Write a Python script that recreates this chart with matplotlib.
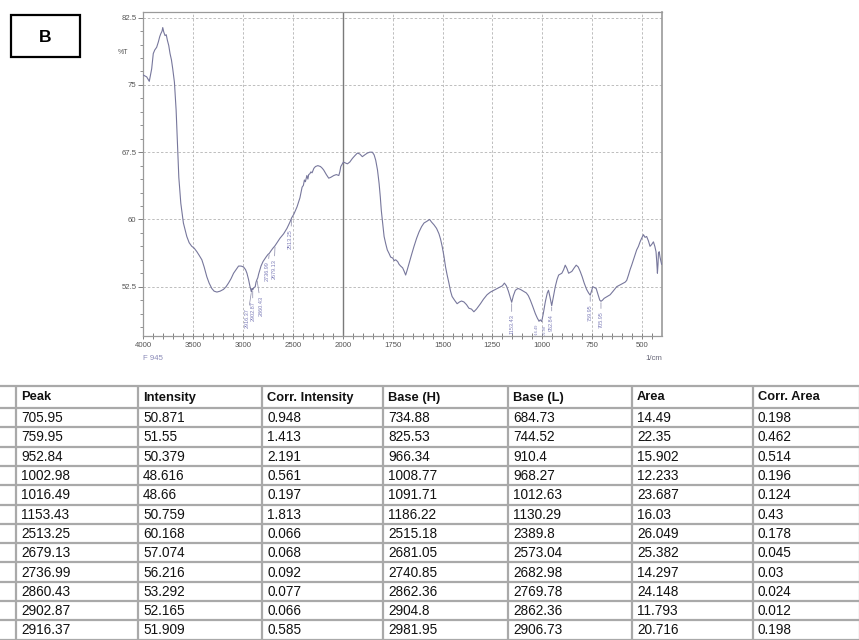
import numpy as np
import matplotlib
matplotlib.use("Agg")
import matplotlib.pyplot as plt
from matplotlib.ticker import FixedLocator, MultipleLocator, NullFormatter

plt.rcParams['font.family'] = ['Liberation Sans', 'DejaVu Sans']

# ---------------- data ----------------
wavenumber = [4000, 3966, 3940, 3916, 3900, 3885, 3866, 3849, 3835, 3825, 3812, 3805, 3795, 3782,
              3770, 3759, 3745, 3732, 3718, 3705, 3688, 3671, 3658, 3644, 3624, 3598, 3564, 3540,
              3514, 3490, 3463, 3440, 3413, 3390, 3363, 3340, 3313, 3290, 3262, 3230, 3196, 3170,
              3146, 3120, 3095, 3070, 3045, 3020, 2995, 2975, 2961, 2945, 2930, 2916.37, 2910,
              2902.87, 2890, 2878, 2870, 2860.43, 2852, 2844, 2820, 2800, 2770, 2750, 2736.99, 2720,
              2700, 2679.13, 2660, 2630, 2593, 2560, 2530, 2513.25, 2490, 2459, 2430, 2408, 2395,
              2385, 2375, 2360, 2350, 2342, 2330, 2320, 2308, 2290, 2274, 2250, 2224, 2205, 2191,
              2165, 2141, 2120, 2090, 2065, 2040, 2030, 2020, 1997, 1977, 1965, 1952, 1940, 1927,
              1915, 1902, 1890, 1877, 1865, 1852, 1843, 1835, 1826, 1818, 1812, 1807, 1800, 1793,
              1785, 1777, 1768, 1760, 1750, 1742, 1735, 1725, 1718, 1710, 1700, 1692, 1685, 1678,
              1668, 1655, 1643, 1630, 1618, 1605, 1593, 1578, 1565, 1555, 1543, 1530, 1518, 1510,
              1502, 1493, 1485, 1477, 1468, 1460, 1452, 1440, 1427, 1415, 1405, 1393, 1380, 1368,
              1355, 1343, 1330, 1320, 1310, 1295, 1277, 1260, 1243, 1225, 1210, 1200, 1190, 1180,
              1170, 1153.43, 1145, 1135, 1122, 1110, 1095, 1080, 1070, 1060, 1048, 1035, 1025,
              1016.49, 1010, 1002.98, 995, 985, 975, 969, 962, 952.84, 945, 935, 926, 918, 910, 902,
              893, 885, 876, 868, 860, 852, 840, 830, 820, 810, 800, 790, 778, 768, 759.95, 752, 747,
              738, 730, 720, 712, 705.95, 698, 690, 675, 660, 645, 627, 610, 593, 585, 577, 568, 560,
              552, 543, 535, 527, 518, 510, 502, 493, 485, 477, 468, 460, 452, 443, 436, 430, 426,
              423, 420, 418, 414, 410, 402]
transmittance = [76.1, 75.9, 75.4, 76.8, 78.5, 78.9, 79.2, 79.8, 80.4, 80.7, 81.0, 81.4, 80.9, 80.5,
                 80.6, 80.0, 79.4, 78.5, 77.8, 76.8, 75.3, 72.2, 68.5, 64.7, 61.8, 59.6, 58.1, 57.4,
                 57.0, 56.8, 56.4, 56.0, 55.5, 54.7, 53.6, 52.9, 52.3, 52.0, 51.9, 52.0, 52.2, 52.5,
                 52.9, 53.4, 54.0, 54.4, 54.8, 54.8, 54.7, 54.4, 54.0, 53.3, 52.5, 51.909, 52.3,
                 52.165, 52.4, 52.5, 53.0, 53.292, 53.5, 53.9, 54.8, 55.3, 55.8, 56.1, 56.216, 56.5,
                 56.8, 57.074, 57.4, 57.9, 58.4, 59.0, 59.7, 60.168, 60.6, 61.4, 62.4, 63.6, 63.8,
                 64.4, 64.2, 64.9, 64.5, 65.0, 65.1, 65.3, 65.2, 65.7, 65.9, 66.0, 65.9, 65.7, 65.5,
                 65.0, 64.6, 64.7, 64.9, 65.0, 64.9, 65.3, 65.9, 66.4, 66.2, 66.4, 66.8, 67.1, 67.4,
                 67.3, 67.0, 67.2, 67.4, 67.5, 67.5, 67.2, 66.6, 65.5, 64.0, 62.5, 61.0, 59.5, 58.1,
                 57.3, 56.6, 56.2, 55.8, 55.7, 55.4, 55.5, 55.3, 55.0, 54.8, 54.6, 54.2, 53.8, 54.3,
                 55.1, 56.1, 57.0, 57.9, 58.6, 59.2, 59.6, 59.8, 60.0, 59.7, 59.4, 59.0, 58.4, 57.8,
                 57.0, 55.9, 54.7, 53.8, 52.9, 52.0, 51.4, 51.0, 50.6, 50.8, 50.9, 50.8, 50.5, 50.1,
                 50.0, 49.7, 50.0, 50.3, 50.6, 51.1, 51.6, 51.9, 52.1, 52.3, 52.5, 52.6, 52.9, 52.6,
                 52.0, 50.759, 51.5, 52.1, 52.3, 52.2, 52.0, 51.8, 51.5, 51.0, 50.3, 49.5, 49.0,
                 48.66, 48.8, 48.616, 49.5, 50.8, 51.8, 52.1, 51.4, 50.379, 51.3, 52.5, 53.3, 53.8,
                 53.9, 54.0, 54.4, 54.9, 54.5, 54.0, 54.1, 54.2, 54.6, 54.9, 54.7, 54.2, 53.6, 52.9,
                 52.2, 51.8, 51.55, 52.1, 52.5, 52.4, 52.3, 51.6, 51.0, 50.871, 51.0, 51.2, 51.4,
                 51.6, 52.0, 52.5, 52.7, 52.9, 53.0, 53.2, 53.8, 54.4, 54.9, 55.5, 56.0, 56.6, 57.0,
                 57.5, 57.9, 58.3, 58.0, 58.1, 57.6, 57.0, 57.2, 57.5, 57.0, 56.4, 55.2, 54.0, 55.0,
                 56.2, 56.4, 55.8, 55.0]

peak = [705.95, 759.95, 952.84, 1002.98, 1016.49, 1153.43, 2513.25, 2679.13, 2736.99, 2860.43,
        2902.87, 2916.37]
intensity = [50.871, 51.55, 50.379, 48.616, 48.66, 50.759, 60.168, 57.074, 56.216, 53.292, 52.165,
             51.909]
corr_intensity = [0.948, 1.413, 2.191, 0.561, 0.197, 1.813, 0.066, 0.068, 0.092, 0.077, 0.066, 0.585]
base_h = [734.88, 825.53, 966.34, 1008.77, 1091.71, 1186.22, 2515.18, 2681.05, 2740.85, 2862.36,
          2904.8, 2981.95]
base_l = [684.73, 744.52, 910.4, 968.27, 1012.63, 1130.29, 2389.8, 2573.04, 2682.98, 2769.78,
          2862.36, 2906.73]
area = [14.49, 22.35, 15.902, 12.233, 23.687, 16.03, 26.049, 25.382, 14.297, 24.148, 11.793, 20.716]
corr_area = [0.198, 0.462, 0.514, 0.196, 0.124, 0.43, 0.178, 0.045, 0.03, 0.024, 0.012, 0.198]

# text strings as printed in the table
peak_txt = ["705.95", "759.95", "952.84", "1002.98", "1016.49", "1153.43", "2513.25", "2679.13",
            "2736.99", "2860.43", "2902.87", "2916.37"]
int_txt = ["50.871", "51.55", "50.379", "48.616", "48.66", "50.759", "60.168", "57.074", "56.216",
           "53.292", "52.165", "51.909"]
ci_txt = ["0.948", "1.413", "2.191", "0.561", "0.197", "1.813", "0.066", "0.068", "0.092", "0.077",
          "0.066", "0.585"]
bh_txt = ["734.88", "825.53", "966.34", "1008.77", "1091.71", "1186.22", "2515.18", "2681.05",
          "2740.85", "2862.36", "2904.8", "2981.95"]
bl_txt = ["684.73", "744.52", "910.4", "968.27", "1012.63", "1130.29", "2389.8", "2573.04",
          "2682.98", "2769.78", "2862.36", "2906.73"]
ar_txt = ["14.49", "22.35", "15.902", "12.233", "23.687", "16.03", "26.049", "25.382", "14.297",
          "24.148", "11.793", "20.716"]
ca_txt = ["0.198", "0.462", "0.514", "0.196", "0.124", "0.43", "0.178", "0.045", "0.03", "0.024",
          "0.012", "0.198"]
headers = ["Peak", "Intensity", "Corr. Intensity", "Base (H)", "Base (L)", "Area", "Corr. Area"]

x_major = [4000, 3500, 3000, 2500, 2000, 1750, 1500, 1250, 1000, 750, 500]
y_major = [52.5, 60, 67.5, 75, 82.5]

# ---------------- figure ----------------
W, H = 859, 640
fig = plt.figure(figsize=(W / 100, H / 100), dpi=100)

# overlay for table + box (pixel coordinates)
ov = fig.add_axes([0, 0, 1, 1])
ov.set_xlim(0, W)
ov.set_ylim(H, 0)
ov.axis('off')
ov.patch.set_visible(False)

# "B" box
ov.add_patch(plt.Rectangle((11, 15), 69, 42, fill=False, ec='black', lw=1.6))
ov.text(45.5, 37, "B", ha='center', va='center', fontsize=12.5, fontweight='bold', color='black')

# table
col_x = [16, 138, 262, 383, 508, 632, 753, 860]
top, head_bot, row_h = 386, 408, 19.3
grid_c = '#a9a9a9'
n_rows = len(peak_txt)
row_lines = [top, head_bot] + [head_bot + row_h * (i + 1) for i in range(n_rows)]
for yy in row_lines:
    ov.plot([0, W], [yy, yy], color=grid_c, lw=1.6, solid_capstyle='butt')
for xx in col_x:
    ov.plot([xx, xx], [top, H], color=grid_c, lw=1.6, solid_capstyle='butt')
for j, h in enumerate(headers):
    ov.text(col_x[j] + 5, (top + head_bot) / 2 + 0.5, h, ha='left', va='center',
            fontsize=9.3, fontweight='bold', color='#111111')
cols = [peak_txt, int_txt, ci_txt, bh_txt, bl_txt, ar_txt, ca_txt]
for j, col in enumerate(cols):
    for i, t in enumerate(col):
        yc = head_bot + row_h * (i + 0.5) + 0.5
        ov.text(col_x[j] + 5, yc, t, ha='left', va='center', fontsize=9.8, color='#111111')

# spectrum axes
L, R, T, B = 143.3, 662, 12.3, 336
ax = fig.add_axes([L / W, 1 - B / H, (R - L) / W, (B - T) / H])


def fwd(x):
    x = np.asarray(x, dtype=float)
    return np.where(x > 2000, 2000 + (x - 2000) / 2.0, x)


def inv(u):
    u = np.asarray(u, dtype=float)
    return np.where(u > 2000, 2000 + (u - 2000) * 2.0, u)


ax.set_xscale('function', functions=(fwd, inv))
ax.set_xlim(4000, 400)
ax.set_ylim(47.0, 83.1)

line_c = '#77779c'
ax.plot(wavenumber, transmittance, color=line_c, lw=0.8, zorder=3)

# grids
for xv in x_major:
    if xv in (2000, 4000):
        continue
    ax.axvline(xv, color='#bdbdbd', lw=0.7, ls=(0, (2.5, 2)), zorder=1)
ax.axvline(2000, color='#7a7a7a', lw=1.0, zorder=2)
for yv in y_major:
    ax.axhline(yv, color='#bdbdbd', lw=0.7, ls=(0, (2.5, 2)), zorder=1)

minor_x = [v for v in list(range(3900, 2000, -100)) + list(range(1950, 400, -50)) if v not in x_major]
ax.xaxis.set_major_locator(FixedLocator(x_major))
ax.xaxis.set_minor_locator(FixedLocator(minor_x))
ax.xaxis.set_minor_formatter(NullFormatter())
ax.set_xticklabels([str(v) for v in x_major])
ax.yaxis.set_major_locator(FixedLocator(y_major))
ax.yaxis.set_minor_locator(MultipleLocator(1.5))
ax.set_yticklabels(["52.5", "60", "67.5", "75", "82.5"])

tick_c = '#555555'
ax.tick_params(axis='x', which='both', direction='inout', length=4, width=0.7, color='#808080',
               labelsize=5.6, labelcolor=tick_c, pad=2.5)
ax.tick_params(axis='y', which='major', direction='out', length=3.5, width=0.7, color='#808080',
               labelsize=5.6, labelcolor=tick_c, pad=1.5)
ax.tick_params(axis='y', which='minor', direction='out', length=2.5, width=0.6, color='#808080')
for s in ax.spines.values():
    s.set_color('#9a9a9a')
    s.set_linewidth(0.9)
ax.spines['right'].set_linewidth(1.2)

# peak labels: pixel offsets of label (dx, dy down) and font size
lab_dx = [0, 0, 0, 2.5, -2.5, 0, -1, -1, -2, 4, 0, -4]
lab_dy = [9, 8, 7, 2, 2, 11, 10, 12, 7, 15, 10, 15]
lab_fs = [4.0, 4.0, 4.0, 2.8, 2.8, 4.0, 4.0, 4.0, 4.0, 4.0, 4.0, 4.0]
lab_c = '#7d7db8'
for p, it, t, dx, dy, fs in zip(peak, intensity, peak_txt, lab_dx, lab_dy, lab_fs):
    a = ax.annotate(t, xy=(p, it), xytext=(dx, -dy - 1), textcoords='offset pixels',
                    rotation=90, ha='center', va='top', fontsize=fs, color=lab_c,
                    arrowprops=dict(arrowstyle='-', color='#8a8aa8', lw=0.5,
                                    shrinkA=0, shrinkB=1.0), clip_on=True, zorder=4)
    a.arrow_patch.set_clip_box(ax.bbox)

# extra texts
fig.text(123 / W, 1 - 53 / H, "%T", ha='center', va='center', fontsize=5, color='#555555')
fig.text(143 / W, 1 - 358 / H, "F 945", ha='left', va='center', fontsize=5.6, color='#8a8ab8')
fig.text(662 / W, 1 - 358 / H, "1/cm", ha='right', va='center', fontsize=5.6, color='#666677')

fig.savefig("out.png", dpi=100)
